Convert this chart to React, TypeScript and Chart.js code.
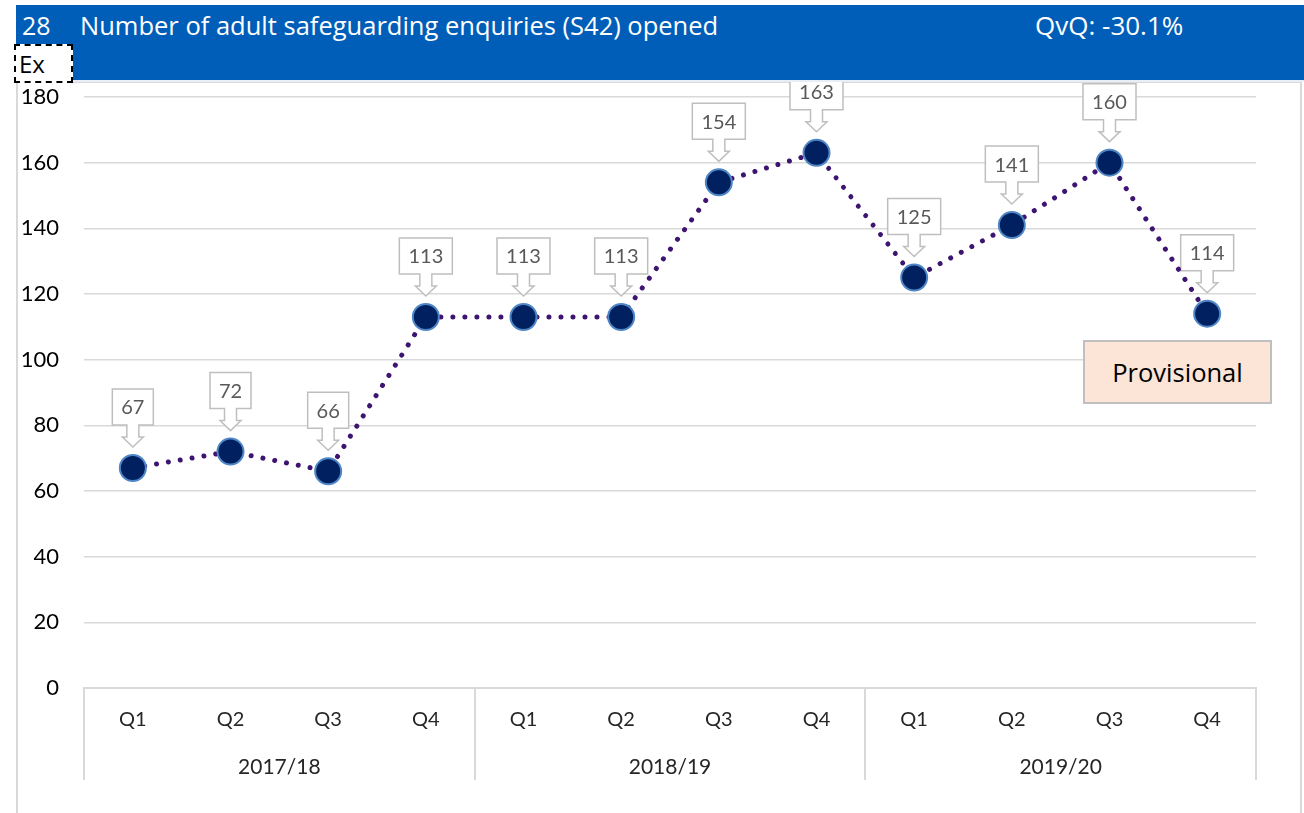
import React, { useEffect, useRef } from "react";
import { Chart, registerables } from "chart.js";

Chart.register(...registerables);

const quarters = ["Q1", "Q2", "Q3", "Q4", "Q1", "Q2", "Q3", "Q4", "Q1", "Q2", "Q3", "Q4"];
const years = ["2017/18", "2018/19", "2019/20"];
const enquiries = [67, 72, 66, 113, 113, 113, 154, 163, 125, 141, 160, 114];
const yMin = 0;
const yMax = 180;
const yStep = 20;

const FONT = "Lato, 'Open Sans', sans-serif";
const HFONT = "'Open Sans', Lato, sans-serif";
const GRID = "#d9d9d9";

const calloutPlugin = {
  id: "callouts",
  beforeDatasetsDraw(chart: any) {
    const ctx = chart.ctx;
    const meta = chart.getDatasetMeta(0);
    ctx.save();
    ctx.font = `20px ${FONT}`;
    meta.data.forEach((pt: any, i: number) => {
      const text = String(enquiries[i]);
      const tw = ctx.measureText(text).width;
      const w = Math.round(tw + 18);
      const h = 36;
      const cx = pt.x;
      const top = pt.y - 79;
      const bottom = top + h;
      const l = cx - w / 2;
      const r = cx + w / 2;
      ctx.beginPath();
      ctx.moveTo(l, top);
      ctx.lineTo(r, top);
      ctx.lineTo(r, bottom);
      ctx.lineTo(cx + 6, bottom);
      ctx.lineTo(cx + 6, bottom + 12);
      ctx.lineTo(cx + 10.5, bottom + 12);
      ctx.lineTo(cx, bottom + 22);
      ctx.lineTo(cx - 10.5, bottom + 12);
      ctx.lineTo(cx - 6, bottom + 12);
      ctx.lineTo(cx - 6, bottom);
      ctx.lineTo(l, bottom);
      ctx.closePath();
      ctx.fillStyle = "#ffffff";
      ctx.fill();
      ctx.strokeStyle = "#bfbfbf";
      ctx.lineWidth = 1.5;
      ctx.stroke();
      ctx.fillStyle = "#595959";
      ctx.textAlign = "center";
      ctx.textBaseline = "middle";
      ctx.fillText(text, cx, top + h / 2 + 1);
    });
    ctx.restore();
  },
};

const groupPlugin = {
  id: "groups",
  afterDraw(chart: any) {
    const ctx = chart.ctx;
    const x = chart.scales.x;
    const bottom = chart.chartArea.bottom;
    const step = x.getPixelForValue(1) - x.getPixelForValue(0);
    ctx.save();
    ctx.strokeStyle = GRID;
    ctx.lineWidth = 2;
    for (let g = 0; g <= years.length; g++) {
      const px = Math.round(x.getPixelForValue(g * 4) - step / 2);
      ctx.beginPath();
      ctx.moveTo(px, bottom);
      ctx.lineTo(px, bottom + 92);
      ctx.stroke();
    }
    ctx.fillStyle = "#262626";
    ctx.font = `21px ${FONT}`;
    ctx.textAlign = "center";
    ctx.textBaseline = "middle";
    years.forEach((yr, g) => {
      const cx = (x.getPixelForValue(g * 4) + x.getPixelForValue(g * 4 + 3)) / 2;
      ctx.fillText(yr, cx, bottom + 79);
    });
    ctx.restore();
  },
};

export default function App() {
  const ref = useRef<HTMLCanvasElement | null>(null);

  useEffect(() => {
    if (!ref.current) return;
    const chart = new Chart(ref.current, {
      type: "line",
      data: {
        labels: quarters,
        datasets: [
          {
            data: enquiries,
            borderColor: "#3d1470",
            borderWidth: 5,
            borderDash: [0.01, 12],
            borderCapStyle: "round",
            tension: 0,
            pointRadius: 13,
            pointHoverRadius: 13,
            pointBackgroundColor: "#002060",
            pointBorderColor: "#4f86c6",
            pointBorderWidth: 2,
          },
        ],
      },
      options: {
        animation: false,
        responsive: false,
        maintainAspectRatio: false,
        layout: { padding: { left: 0, right: 48, top: 97, bottom: 0 } },
        plugins: {
          legend: { display: false },
          tooltip: { enabled: false },
          title: { display: false },
        },
        scales: {
          x: {
            type: "category",
            offset: true,
            grid: { display: false, drawTicks: false },
            border: { display: true, color: GRID, width: 2 },
            ticks: {
              color: "#262626",
              font: { family: FONT, size: 20 },
              padding: 20,
              maxRotation: 0,
              autoSkip: false,
            },
            afterFit(scale: any) {
              scale.height = 125;
            },
          },
          y: {
            min: yMin,
            max: yMax,
            grid: { color: GRID, lineWidth: 1.5, drawTicks: false },
            border: { display: false },
            ticks: {
              stepSize: yStep,
              color: "#000000",
              font: { family: FONT, size: 22 },
              padding: 25,
            },
            afterFit(scale: any) {
              scale.width = 84;
            },
          },
        },
      },
      plugins: [calloutPlugin, groupPlugin],
    });
    return () => chart.destroy();
  }, []);

  const white = "#ffffff";
  return (
    <div style={{ position: "fixed", left: 0, top: 0, width: 1304, height: 813, background: "#ffffff", overflow: "hidden", fontFamily: HFONT }}>
      <div style={{ position: "absolute", left: 16, top: 81, width: 1282, height: 760, border: `2px solid ${GRID}` }} />
      <canvas ref={ref} width={1304} height={813} style={{ position: "absolute", left: 0, top: 0, width: 1304, height: 813 }} />
      <div style={{ position: "absolute", left: 16, top: 5, width: 1288, height: 75, background: "#005eb8" }} />
      <div style={{ position: "absolute", left: 16, top: 80, width: 1288, height: 2, background: "#e8eef6" }} />
      <div style={{ position: "absolute", left: 22, top: 9, color: white, fontSize: 25, lineHeight: "32px", whiteSpace: "nowrap" }}>28</div>
      <div style={{ position: "absolute", left: 80, top: 9, color: white, fontSize: 25.5, lineHeight: "32px", whiteSpace: "nowrap" }}>
        Number of adult safeguarding enquiries (S42) opened
      </div>
      <div style={{ position: "absolute", left: 1035, top: 9, color: white, fontSize: 26, lineHeight: "32px", whiteSpace: "nowrap" }}>QvQ: -30.1%</div>
      <div style={{ position: "absolute", left: 14, top: 44, width: 55, height: 35, background: white, border: "2px dashed #000", boxSizing: "content-box" }} />
      <div style={{ position: "absolute", left: 19, top: 48, color: "#000", fontSize: 24, lineHeight: "32px" }}>Ex</div>
      <div
        style={{
          position: "absolute",
          left: 1083,
          top: 340,
          width: 185,
          height: 60,
          background: "#fce4d6",
          border: "2px solid #bfbfbf",
          display: "flex",
          alignItems: "center",
          justifyContent: "center",
          fontSize: 25.5,
          color: "#000",
        }}
      >
        Provisional
      </div>
    </div>
  );
}
